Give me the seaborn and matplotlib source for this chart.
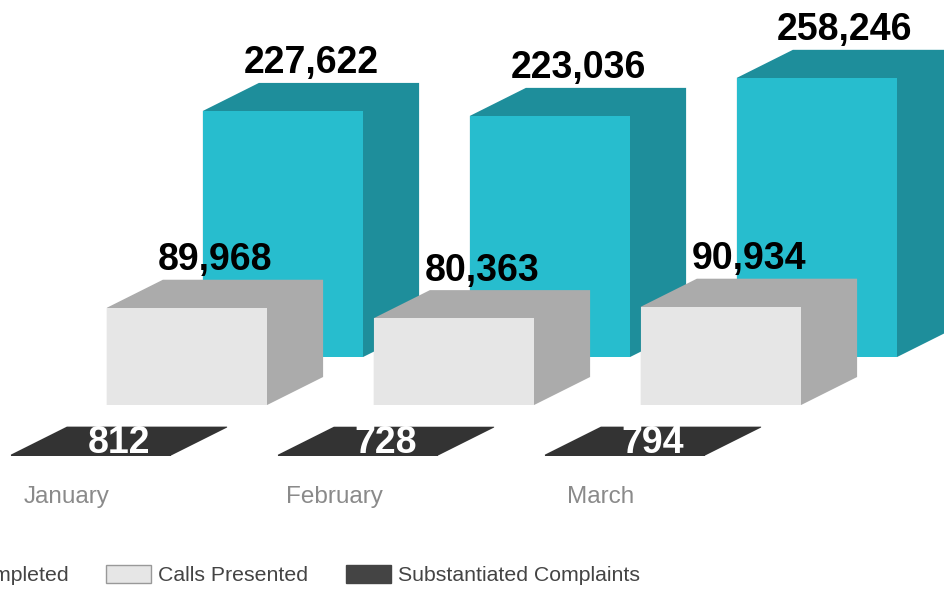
# -*- coding: utf-8 -*-
"""
Call centre volumes by month, faux 3D bars (one axes per depth row)
"""

import matplotlib
matplotlib.use("Agg")
import matplotlib.pyplot as plt
import seaborn as sns
from matplotlib.patches import Patch, Polygon
from matplotlib.transforms import ScaledTranslation

months = ["January", "February", "March"]
calls_completed = [227622, 223036, 258246]
calls_presented = [89968, 80363, 90934]
complaints = [812, 728, 794]

W, H = 944, 591
STEP = 267        # px between months
DEPTH_X = 56      # px
DEPTH_Y = 28      # px
PER_PX = 925      # value units per pixel

sns.set_style("white")
plt.rcParams["font.family"] = ["Liberation Sans", "DejaVu Sans"]

fig = plt.figure(figsize=(W / 100, H / 100), dpi=100)
fig.patch.set_facecolor("white")


def draw_row(values, center_px, base_px, front, side, txt, order):
    # axes whose first category sits on center_px and whose zero sits on base_px
    left = center_px - STEP / 2
    ax = fig.add_axes([left / W, (H - base_px) / H, 3 * STEP / W, base_px / H])
    ax.set_zorder(order)
    ax.patch.set_visible(False)
    sns.barplot(x=months, y=values, ax=ax, color=front, saturation=1, width=0.6,
                linewidth=0, legend=False)
    ax.set_xlim(-0.5, 2.5)
    ax.set_ylim(0, base_px * PER_PX)
    ax.set_yticks([])
    sns.despine(ax=ax, left=True, bottom=True)
    ax.tick_params(axis="x", length=0)

    dx = DEPTH_X / STEP
    dy = DEPTH_Y * PER_PX
    for bar, v in zip(ax.patches, values):
        x0 = bar.get_x()
        x1 = x0 + bar.get_width()
        bar.set_zorder(3)
        # top and side share one colour, so one outline covers both
        ax.add_patch(Polygon([(x0, 0), (x0, v), (x0 + dx, v + dy), (x1 + dx, v + dy),
                              (x1 + dx, dy), (x1, 0)],
                             closed=True, fc=side, ec="none", clip_on=False, zorder=2))
        mid = x0 + bar.get_width() / 2 + dx / 2
        if txt == "white":
            ax.text(mid, v + dy / 2 + 1.5 * PER_PX, f"{v:,}", color=txt, fontsize=27,
                    fontweight="bold", ha="center", va="center_baseline", clip_on=False, zorder=5)
        else:
            ax.text(mid, v + dy + 9.5 * PER_PX, f"{v:,}", color=txt, fontsize=27,
                    fontweight="bold", ha="center", va="baseline", clip_on=False, zorder=5)
    return ax


ax1 = draw_row(calls_completed, 283, 357, "#27BDCE", "#1E8E9B", "black", 1)
ax2 = draw_row(calls_presented, 187, 405, "#E6E6E6", "#ABABAB", "black", 2)
ax3 = draw_row(complaints, 91, 455.5, "#333333", "#333333", "white", 3)

ax1.set_xticklabels([])
ax2.set_xticklabels([])

# month labels sit left of the front row's bars
ax3.tick_params(axis="x", pad=22, labelsize=17.5, labelcolor="#8A8A8A")
shift = ScaledTranslation(-24 / 100, 0, fig.dpi_scale_trans)
for lab in ax3.get_xticklabels():
    lab.set_transform(lab.get_transform() + shift)

handles = [Patch(fc="#27BDCE", ec="#27BDCE", label="Calls Completed"),
           Patch(fc="#E6E6E6", ec="#999999", label="Calls Presented"),
           Patch(fc="#444444", ec="#444444", label="Substantiated Complaints")]
leg = fig.legend(handles=handles, loc="center right", bbox_to_anchor=(640 / W, 1 - 575 / H),
                 ncol=3, frameon=False, fontsize=15.3, labelcolor="#444444", borderpad=0,
                 borderaxespad=0, handlelength=2.1, handleheight=0.95, handletextpad=0.33,
                 columnspacing=1.8)

fig.savefig("out.png", dpi=100)
